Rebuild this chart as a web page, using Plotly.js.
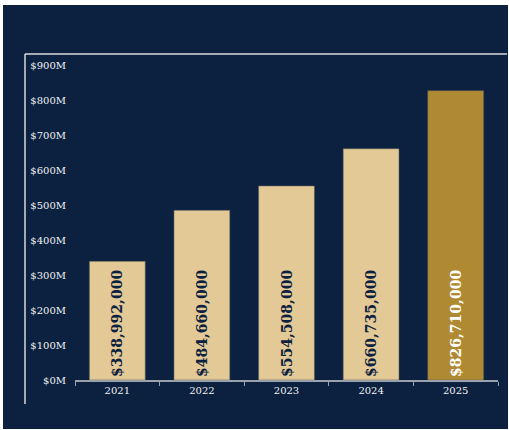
<!DOCTYPE html>
<html>
<head>
<meta charset="utf-8">
<script src="https://cdn.plot.ly/plotly-3.0.1.min.js"></script>
<style>
html,body{margin:0;padding:0;background:#ffffff;width:509px;height:430px;overflow:hidden;}
#chart{position:absolute;left:3px;top:5px;width:505px;height:424px;}
</style>
</head>
<body>
<div id="chart"></div>
<script>
const years = ['2021', '2022', '2023', '2024', '2025'];
const revenue = [338992000, 484660000, 554508000, 660735000, 826710000];
const labels = ['$338,992,000', '$484,660,000', '$554,508,000', '$660,735,000', '$826,710,000'];
const tickValues = [0, 100e6, 200e6, 300e6, 400e6, 500e6, 600e6, 700e6, 800e6, 900e6];
const tickLabels = ['$0M', '$100M', '$200M', '$300M', '$400M', '$500M', '$600M', '$700M', '$800M', '$900M'];

const navy = '#0c2140';
const barColors = ['#e2c995', '#e2c995', '#e2c995', '#e2c995', '#b08a33'];
const textColors = [navy, navy, navy, navy, '#ffffff'];

const trace = {
  type: 'bar',
  x: years,
  y: revenue,
  text: labels,
  textposition: 'inside',
  insidetextanchor: 'start',
  textangle: -90,
  constraintext: 'none',
  textfont: {family: 'DejaVu Serif', size: 14, color: textColors, weight: 'bold'},
  marker: {color: barColors, line: {color: 'rgba(90,90,90,0.7)', width: 0.8}},
  hoverinfo: 'none'
};

const layout = {
  width: 505,
  height: 424,
  margin: {l: 72, r: 10, t: 60, b: 49},
  paper_bgcolor: navy,
  plot_bgcolor: navy,
  bargap: 0.34,
  showlegend: false,
  font: {family: 'DejaVu Serif', color: '#f2f2f2', size: 9.5},
  xaxis: {
    type: 'category',
    showline: true,
    linecolor: '#9aa3ad',
    linewidth: 1.5,
    ticks: 'outside',
    tickson: 'boundaries',
    ticklen: 4,
    tickcolor: '#9aa3ad',
    showgrid: false,
    tickfont: {family: 'DejaVu Serif', size: 10, color: '#f2f2f2'}
  },
  yaxis: {
    range: [0, 900e6],
    tickvals: tickValues,
    ticktext: tickLabels,
    showgrid: false,
    zeroline: false,
    showline: false,
    ticks: '',
    ticklabelstandoff: 8,
    tickfont: {family: 'DejaVu Serif', size: 10, color: '#f2f2f2'}
  },
  shapes: [
    {type: 'line', xref: 'paper', yref: 'paper', x0: -0.1182, x1: 1.0213, y0: 1.0349, y1: 1.0349,
     line: {color: '#d9d9d9', width: 1.5}},
    {type: 'line', xref: 'paper', yref: 'paper', x0: -0.1182, x1: -0.1182, y0: 1.0349, y1: -0.0762,
     line: {color: '#d9d9d9', width: 1.5}}
  ]
};

Plotly.newPlot('chart', [trace], layout, {displayModeBar: false, staticPlot: true});
</script>
</body>
</html>
